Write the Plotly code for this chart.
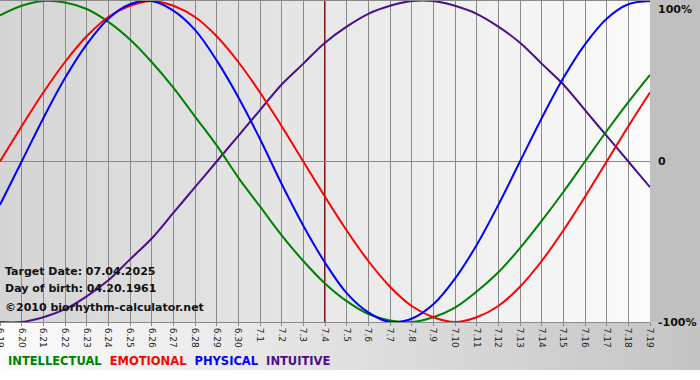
import plotly.graph_objects as go

days = ["6.19", "6.20", "6.21", "6.22", "6.23", "6.24", "6.25", "6.26", "6.27", "6.28",
        "6.29", "6.30", "7.1", "7.2", "7.3", "7.4", "7.5", "7.6", "7.7", "7.8",
        "7.9", "7.10", "7.11", "7.12", "7.13", "7.14", "7.15", "7.16", "7.17", "7.18", "7.19"]

physical = [-0.27, 0.00, 0.27, 0.52, 0.73, 0.89, 0.98, 1.00, 0.94, 0.82,
            0.63, 0.40, 0.14, -0.14, -0.40, -0.63, -0.82, -0.94, -1.00, -0.98,
            -0.89, -0.73, -0.52, -0.27, 0.00, 0.27, 0.52, 0.73, 0.89, 0.98, 1.00]
emotional = [0.00, 0.22, 0.43, 0.62, 0.78, 0.90, 0.97, 1.00, 0.97, 0.90,
             0.78, 0.62, 0.43, 0.22, 0.00, -0.22, -0.43, -0.62, -0.78, -0.90,
             -0.97, -1.00, -0.97, -0.90, -0.78, -0.62, -0.43, -0.22, 0.00, 0.22, 0.43]
intellectual = [0.91, 0.97, 1.00, 0.99, 0.95, 0.87, 0.76, 0.62, 0.46, 0.28,
                0.10, -0.10, -0.28, -0.46, -0.62, -0.76, -0.87, -0.95, -0.99, -1.00,
                -0.97, -0.91, -0.81, -0.69, -0.54, -0.37, -0.19, 0.00, 0.19, 0.37, 0.54]
intuitive = [-1.00, -1.00, -0.97, -0.92, -0.84, -0.74, -0.61, -0.48, -0.32, -0.16,
             0.00, 0.16, 0.32, 0.48, 0.61, 0.74, 0.84, 0.92, 0.97, 1.00,
             1.00, 0.97, 0.92, 0.84, 0.74, 0.61, 0.48, 0.32, 0.16, 0.00, -0.16]

target_day = "7.4"
target_text = "Target Date: 07.04.2025"
birth_text = "Day of birth: 04.20.1961"
copyright_text = "©2010 biorhythm-calculator.net"
right_labels = [(1, "100%", "top"), (0, "0", "middle"), (-1, "-100%", "middle")]

series = [
    ("INTUITIVE", intuitive, "#4b0f8a"),
    ("INTELLECTUAL", intellectual, "#008000"),
    ("EMOTIONAL", emotional, "#ff0000"),
    ("PHYSICAL", physical, "#0000ff"),
]

fig = go.Figure()
for name, vals, col in series:
    fig.add_trace(go.Scatter(x=days, y=vals, mode="lines", name=name,
                             line=dict(color=col, width=2, shape="spline", smoothing=1.0),
                             showlegend=False, hoverinfo="skip"))

W, H = 700, 380
ml, mr, mt, mb = 0, 50, 1, 58
pw, ph = W - ml - mr, H - mt - mb

def px2x(px):
    return (px - ml) / pw

def py2y(py):
    return (mt + ph - py) / ph

shapes = []
# plot background gradient (dark left -> light right)
N = 65
for i in range(N):
    t = (i + 0.5) / N
    v = int(round(213 + (251 - 213) * t))
    shapes.append(dict(type="rect", xref="paper", yref="paper",
                       x0=i / N, x1=(i + 1) / N + 0.002, y0=0, y1=py2y(-2),
                       fillcolor=f"rgb({v},{v},{v})", line_width=0, layer="below"))
# bottom band gradient (white left -> grey right)
N2 = 70
for i in range(N2):
    t = (i + 0.5) / N2
    v = int(round(252 + (196 - 252) * t))
    x0 = px2x(i * W / N2)
    x1 = px2x((i + 1) * W / N2 + 1)
    shapes.append(dict(type="rect", xref="paper", yref="paper",
                       x0=x0, x1=x1, y0=py2y(370), y1=0,
                       fillcolor=f"rgb({v},{v},{v})", line_width=0, layer="below"))
# right grey panel
shapes.append(dict(type="rect", xref="paper", yref="paper",
                   x0=1, x1=px2x(W + 2), y0=0, y1=py2y(-2),
                   fillcolor="#c0c0c0", line_width=0, layer="below"))
# target date line
ti = days.index(target_day)
shapes.append(dict(type="line", xref="x", yref="paper", x0=ti, x1=ti,
                   y0=0, y1=1, line=dict(color="#7a1a1a", width=2), layer="between"))

annotations = []
for txt, py in [(target_text, 271), (birth_text, 288), (copyright_text, 307)]:
    annotations.append(dict(text=f"<b>{txt}</b>", xref="paper", yref="paper",
                            x=px2x(3), y=py2y(py), xanchor="left", yanchor="middle",
                            showarrow=False,
                            font=dict(family="DejaVu Sans", size=11, color="#111111")))
for yv, txt, ya in right_labels:
    annotations.append(dict(text=f"<b>{txt}</b>", xref="paper", yref="y",
                            x=px2x(656), y=yv, xanchor="left", yanchor=ya,
                            showarrow=False,
                            font=dict(family="DejaVu Sans", size=11, color="#111111")))
legend_html = "  ".join(
    f'<span style="color:{col}">{name}</span>'
    for name, vals, col in [series[1], series[2], series[3], series[0]])
annotations.append(dict(text=f"<b>{legend_html}</b>", xref="paper", yref="paper",
                        x=px2x(6), y=py2y(361), xanchor="left", yanchor="middle",
                        showarrow=False,
                        font=dict(family="DejaVu Sans", size=11.5, color="#000000")))

fig.update_layout(
    width=W, height=H,
    margin=dict(l=ml, r=mr, t=mt, b=mb, pad=0, autoexpand=False),
    paper_bgcolor="#ffffff",
    plot_bgcolor="rgba(0,0,0,0)",
    shapes=shapes,
    annotations=annotations,
    showlegend=False,
)
fig.update_xaxes(type="category", range=[0, len(days) - 1], automargin=False,
                 showgrid=True, gridcolor="#8a8a8a", gridwidth=1,
                 ticks="outside", ticklen=3, tickcolor="#8a8a8a",
                 tickangle=90, tickfont=dict(family="DejaVu Sans", size=9, color="#222222"),
                 showline=True, linecolor="#8a8a8a", linewidth=1, mirror=True,
                 zeroline=False, fixedrange=True)
fig.update_yaxes(range=[-1.0, 1.0], automargin=False, showgrid=False, showticklabels=False,
                 zeroline=True, zerolinecolor="#8a8a8a", zerolinewidth=1,
                 showline=False, fixedrange=True)

fig.write_html("out.html", config={"displayModeBar": False},
               post_script="document.body.style.margin='0';")
